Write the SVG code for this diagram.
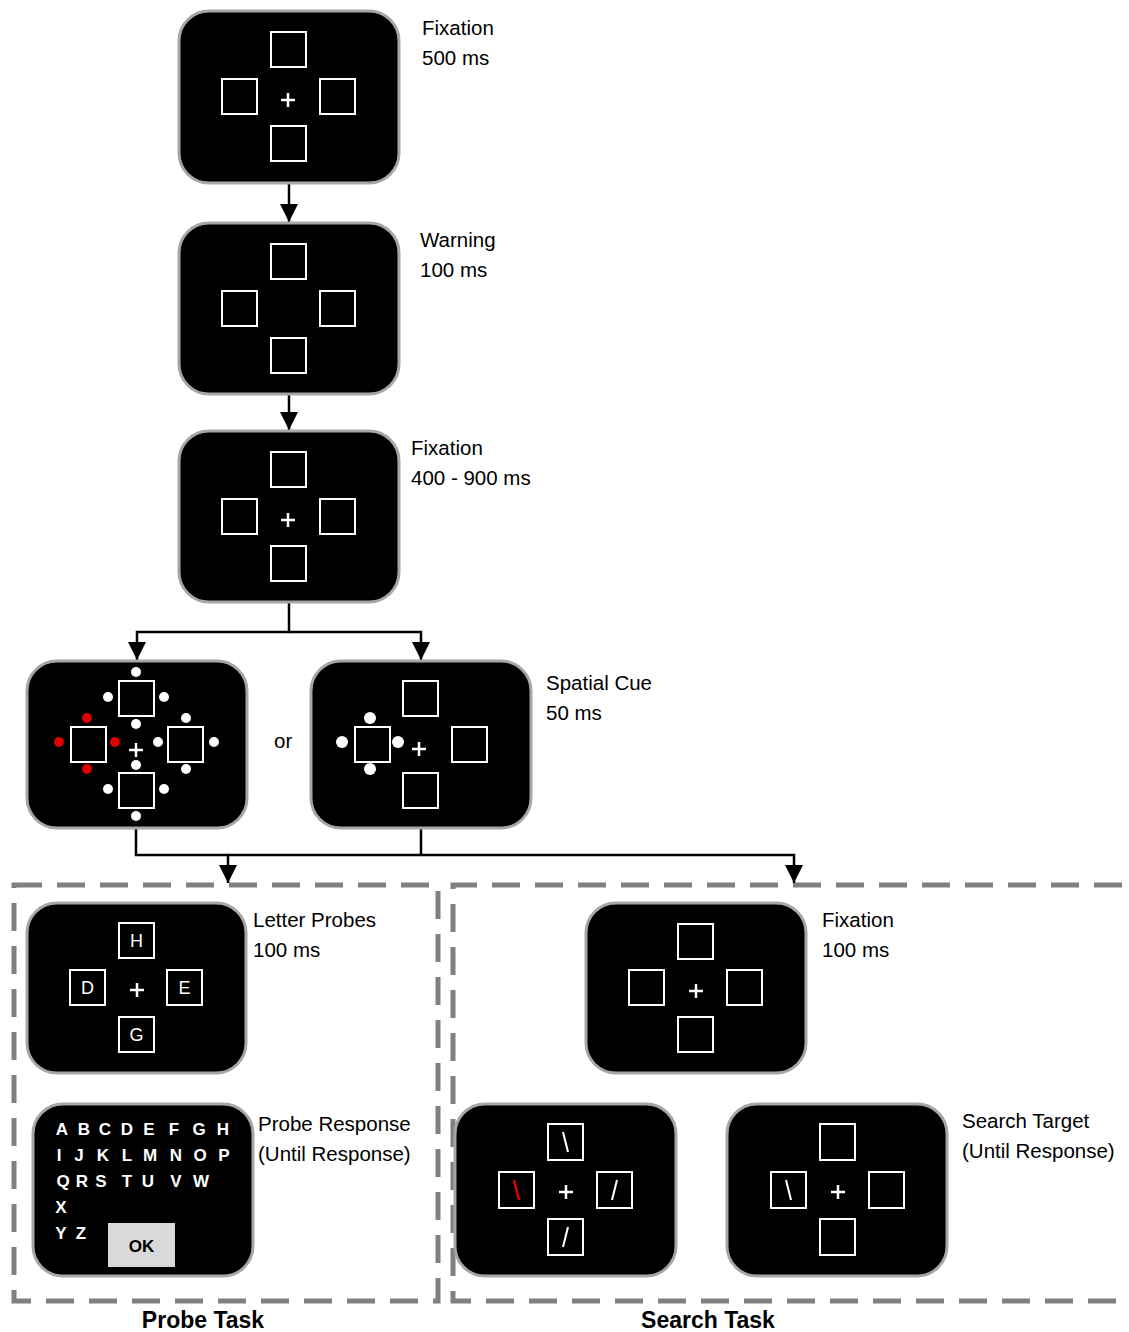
<svg xmlns="http://www.w3.org/2000/svg" width="1129" height="1332" viewBox="0 0 1129 1332">
<style>
.panel{fill:#000;stroke:#a6a6a6;stroke-width:3}
.box{fill:none;stroke:#fff;stroke-width:2}
.plus{stroke:#fff;stroke-width:2.5;fill:none}
.lbl{font-family:"Liberation Sans",Arial,sans-serif;font-size:20.5px;fill:#000}
.ttl{font-family:"Liberation Sans",Arial,sans-serif;font-size:23px;font-weight:bold;fill:#000;text-anchor:middle}
.let{font-family:"Liberation Sans",Arial,sans-serif;font-size:18px;fill:#fff;text-anchor:middle}
.kb{font-family:"Liberation Sans",Arial,sans-serif;font-size:17px;font-weight:bold;fill:#fff;text-anchor:middle}
.dot{fill:#fff}
.red{fill:#e00000}
.conn{fill:none;stroke:#000;stroke-width:2.5}
.dash{fill:none;stroke:#808080;stroke-width:5;stroke-dasharray:28 15}
.bar{stroke:#fff;stroke-width:2}
</style>
<defs>
<marker id="arr" viewBox="0 0 18 18" refX="18" refY="9" markerWidth="18" markerHeight="18" markerUnits="userSpaceOnUse" orient="auto">
<path d="M0,0 L18,9 L0,18 z" fill="#000"/>
</marker>
</defs>

<g id="task-frames">
<rect class="dash" x="14" y="885" width="424" height="416"/>
<path class="dash" d="M1122,885 H453 V1301 H1122"/>
</g>

<g id="connectors">
<path class="conn" d="M289,183 V222" marker-end="url(#arr)"/>
<path class="conn" d="M289,394 V430" marker-end="url(#arr)"/>
<path class="conn" d="M289,602 V632 H137 V660" marker-end="url(#arr)"/>
<path class="conn" d="M289,632 H421 V660" marker-end="url(#arr)"/>
<path class="conn" d="M136,828 V855 H228 V883" marker-end="url(#arr)"/>
<path class="conn" d="M421,828 V855"/>
<path class="conn" d="M228,855 H794 V883" marker-end="url(#arr)"/>
</g>

<g id="fixation1">
<rect class="panel" x="179" y="11" width="220" height="172" rx="30"/>
<rect class="box" x="271" y="32" width="35" height="35"/>
<rect class="box" x="222" y="79" width="35" height="35"/>
<rect class="box" x="320" y="79" width="35" height="35"/>
<rect class="box" x="271" y="126" width="35" height="35"/>
<path class="plus" d="M281,100 H295 M288,93 V107"/>
<text class="lbl" x="422" y="35">Fixation</text>
<text class="lbl" x="422" y="65">500 ms</text>
</g>

<g id="warning">
<rect class="panel" x="179" y="223" width="220" height="171" rx="30"/>
<rect class="box" x="271" y="244" width="35" height="35"/>
<rect class="box" x="222" y="291" width="35" height="35"/>
<rect class="box" x="320" y="291" width="35" height="35"/>
<rect class="box" x="271" y="338" width="35" height="35"/>
<text class="lbl" x="420" y="247">Warning</text>
<text class="lbl" x="420" y="277">100 ms</text>
</g>

<g id="fixation2">
<rect class="panel" x="179" y="431" width="220" height="171" rx="30"/>
<rect class="box" x="271" y="452" width="35" height="35"/>
<rect class="box" x="222" y="499" width="35" height="35"/>
<rect class="box" x="320" y="499" width="35" height="35"/>
<rect class="box" x="271" y="546" width="35" height="35"/>
<path class="plus" d="M281,520 H295 M288,513 V527"/>
<text class="lbl" x="411" y="455">Fixation</text>
<text class="lbl" x="411" y="485">400 - 900 ms</text>
</g>

<g id="cue-left">
<rect class="panel" x="27" y="661" width="220" height="167" rx="30"/>
<rect class="box" x="119" y="681" width="35" height="35"/>
<rect class="box" x="71" y="727" width="35" height="35"/>
<rect class="box" x="168" y="727" width="35" height="35"/>
<rect class="box" x="119" y="773" width="35" height="35"/>
<path class="plus" d="M129,750 H143 M136,743 V757"/>
<circle class="dot" cx="136" cy="672" r="5"/>
<circle class="dot" cx="108" cy="697" r="5"/>
<circle class="dot" cx="164" cy="697" r="5"/>
<circle class="dot" cx="136" cy="724" r="5"/>
<circle class="red" cx="87" cy="718" r="5"/>
<circle class="red" cx="59" cy="742" r="5"/>
<circle class="red" cx="115" cy="742" r="5"/>
<circle class="red" cx="87" cy="769" r="5"/>
<circle class="dot" cx="186" cy="718" r="5"/>
<circle class="dot" cx="158" cy="742" r="5"/>
<circle class="dot" cx="214" cy="742" r="5"/>
<circle class="dot" cx="186" cy="769" r="5"/>
<circle class="dot" cx="136" cy="765" r="5"/>
<circle class="dot" cx="108" cy="789" r="5"/>
<circle class="dot" cx="164" cy="789" r="5"/>
<circle class="dot" cx="136" cy="816" r="5"/>
</g>

<text class="lbl" x="274" y="748">or</text>

<g id="cue-right">
<rect class="panel" x="311" y="661" width="220" height="167" rx="30"/>
<rect class="box" x="403" y="681" width="35" height="35"/>
<rect class="box" x="355" y="727" width="35" height="35"/>
<rect class="box" x="452" y="727" width="35" height="35"/>
<rect class="box" x="403" y="773" width="35" height="35"/>
<path class="plus" d="M412,749 H426 M419,742 V756"/>
<circle class="dot" cx="370" cy="718" r="6"/>
<circle class="dot" cx="342" cy="742" r="6"/>
<circle class="dot" cx="398" cy="742" r="6"/>
<circle class="dot" cx="370" cy="769" r="6"/>
<text class="lbl" x="546" y="690">Spatial Cue</text>
<text class="lbl" x="546" y="720">50 ms</text>
</g>

<g id="letter-probes">
<rect class="panel" x="27" y="903" width="219" height="170" rx="30"/>
<rect class="box" x="119" y="923" width="35" height="35"/>
<rect class="box" x="70" y="970" width="35" height="35"/>
<rect class="box" x="167" y="970" width="35" height="35"/>
<rect class="box" x="119" y="1017" width="35" height="35"/>
<text class="let" x="136.5" y="947">H</text>
<text class="let" x="87.5" y="994">D</text>
<text class="let" x="184.5" y="994">E</text>
<text class="let" x="136.5" y="1041">G</text>
<path class="plus" d="M130,990 H144 M137,983 V997"/>
<text class="lbl" x="253" y="927">Letter Probes</text>
<text class="lbl" x="253" y="957">100 ms</text>
</g>

<g id="probe-response">
<rect class="panel" x="33" y="1104" width="220" height="172" rx="30"/>
<text class="kb" x="62" y="1135">A</text>
<text class="kb" x="84" y="1135">B</text>
<text class="kb" x="105" y="1135">C</text>
<text class="kb" x="127" y="1135">D</text>
<text class="kb" x="149" y="1135">E</text>
<text class="kb" x="174" y="1135">F</text>
<text class="kb" x="199" y="1135">G</text>
<text class="kb" x="223" y="1135">H</text>
<text class="kb" x="59" y="1161">I</text>
<text class="kb" x="79" y="1161">J</text>
<text class="kb" x="103" y="1161">K</text>
<text class="kb" x="127" y="1161">L</text>
<text class="kb" x="150" y="1161">M</text>
<text class="kb" x="176" y="1161">N</text>
<text class="kb" x="200" y="1161">O</text>
<text class="kb" x="224" y="1161">P</text>
<text class="kb" x="63" y="1187">Q</text>
<text class="kb" x="82" y="1187">R</text>
<text class="kb" x="101" y="1187">S</text>
<text class="kb" x="127" y="1187">T</text>
<text class="kb" x="148" y="1187">U</text>
<text class="kb" x="176" y="1187">V</text>
<text class="kb" x="201" y="1187">W</text>
<text class="kb" x="61" y="1213">X</text>
<text class="kb" x="61" y="1239">Y</text>
<text class="kb" x="81" y="1239">Z</text>
<rect x="108" y="1223" width="67" height="44" fill="#d9d9d9"/>
<text class="kb" x="141.5" y="1252" style="fill:#000">OK</text>
<text class="lbl" x="258" y="1131">Probe Response</text>
<text class="lbl" x="258" y="1161">(Until Response)</text>
</g>

<g id="fixation3">
<rect class="panel" x="586" y="903" width="220" height="170" rx="30"/>
<rect class="box" x="678" y="924" width="35" height="35"/>
<rect class="box" x="629" y="970" width="35" height="35"/>
<rect class="box" x="727" y="970" width="35" height="35"/>
<rect class="box" x="678" y="1017" width="35" height="35"/>
<path class="plus" d="M689,991 H703 M696,984 V998"/>
<text class="lbl" x="822" y="927">Fixation</text>
<text class="lbl" x="822" y="957">100 ms</text>
</g>

<g id="search-array">
<rect class="panel" x="455" y="1104" width="221" height="172" rx="30"/>
<rect class="box" x="548" y="1124" width="35" height="36"/>
<rect class="box" x="499" y="1172" width="35" height="36"/>
<rect class="box" x="597" y="1172" width="35" height="36"/>
<rect class="box" x="548" y="1219" width="35" height="36"/>
<line class="bar" x1="563" y1="1132" x2="568" y2="1152"/>
<line x1="514" y1="1180" x2="519" y2="1200" stroke="#e00000" stroke-width="2.5"/>
<line class="bar" x1="617" y1="1180" x2="612" y2="1200"/>
<line class="bar" x1="568" y1="1227" x2="563" y2="1247"/>
<path class="plus" d="M559,1192 H573 M566,1185 V1199"/>
</g>

<g id="search-target">
<rect class="panel" x="727" y="1104" width="220" height="172" rx="30"/>
<rect class="box" x="820" y="1124" width="35" height="36"/>
<rect class="box" x="771" y="1172" width="35" height="36"/>
<rect class="box" x="869" y="1172" width="35" height="36"/>
<rect class="box" x="820" y="1219" width="35" height="36"/>
<line class="bar" x1="786" y1="1180" x2="791" y2="1200"/>
<path class="plus" d="M831,1192 H845 M838,1185 V1199"/>
<text class="lbl" x="962" y="1128">Search Target</text>
<text class="lbl" x="962" y="1158">(Until Response)</text>
</g>

<text class="ttl" x="203" y="1328">Probe Task</text>
<text class="ttl" x="708" y="1328">Search Task</text>
</svg>
